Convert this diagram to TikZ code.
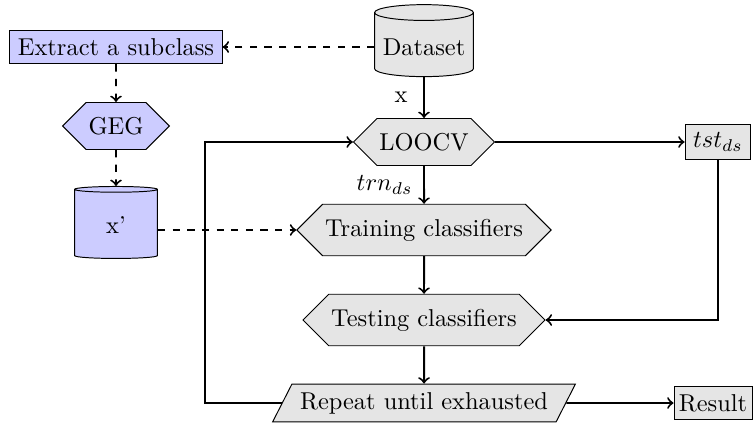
\documentclass[tikz,border=0pt]{standalone}
\usepackage{amsmath,amsfonts}
\usepackage{tikz}
\usetikzlibrary{shapes.geometric,shapes.symbols}

\tikzset{
  hexa/.style={draw, signal, signal to=west and east, signal pointer angle=90,
    inner xsep=1pt, inner ysep=6pt},
  store/.style={draw, cylinder, shape border rotate=90, aspect=0.16,
    minimum width=34pt, minimum height=29.5pt},
  plain/.style={draw, rectangle},
  slant/.style={draw, trapezium, trapezium left angle=63, trapezium right angle=117},
  link/.style={->, thick},
  dlink/.style={->, thick, dashed}
}

\begin{document}
\begin{tikzpicture}[x=0.0144cm, y=-0.0144cm]
\useasboundingbox (0,0) rectangle (754,424);
% left branch
\node[plain, fill=blue!20] (ext) at (116,47) {Extract a subclass};
\node[hexa, fill=blue!20] (geg) at (116,126) {GEG};
\node[store, fill=blue!20] (xp) at (116,225) {x'};
% main column
\node[store, fill=gray!20] (ds) at (424,47) {Dataset};
\node[hexa, fill=gray!20] (loocv) at (424,142) {LOOCV};
\node[hexa, fill=gray!20] (train) at (424,230) {Training classifiers};
\node[hexa, fill=gray!20] (test) at (424,320) {Testing classifiers};
\node[slant, fill=gray!20] (rep) at (424,403) {Repeat until exhausted};
\node[plain, fill=gray!20] (tst) at (718,142) {$tst_{ds}$};
\node[plain, fill=gray!20, inner xsep=2pt] (res) at (713,403) {Result};

\draw[dlink] (ds.west |- ext.east) -- (ext.east);
\draw[dlink] (ext) -- (geg);
\draw[dlink] (geg) -- (xp);
\draw[dlink] (xp.east |- train.west) -- (train.west);

\draw[link] (ds) -- node[left, xshift=-3pt] {x} (loocv);
\draw[link] (loocv) -- (tst);
\draw[link] (loocv) -- node[left, xshift=-1pt] {$trn_{ds}$} (train);
\draw[link] (train) -- (test);
\draw[link] (tst) |- (test.east);
\draw[link] (test) -- (rep);
\draw[link] (rep.west) -- ++(-77,0) |- (loocv.west);
\draw[link] (rep.east) -- (res.west);
\end{tikzpicture}
\end{document}
